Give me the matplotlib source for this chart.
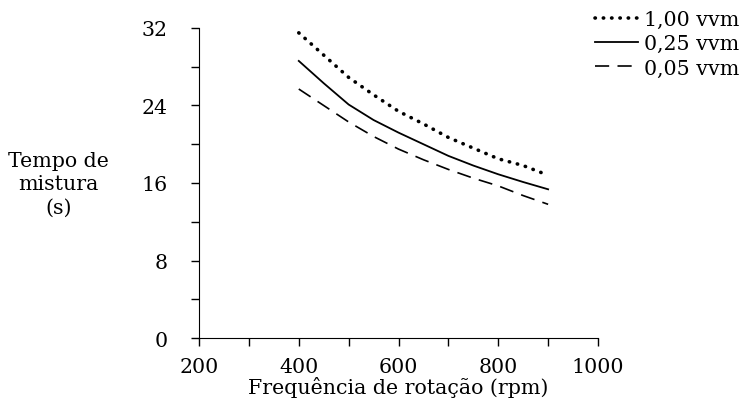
import matplotlib.pyplot as plt
from matplotlib.ticker import MultipleLocator

# rotation frequency (rpm) and mixing time (s) for each aeration rate
rpm = [400, 450, 500, 550, 600, 650, 700, 750, 800, 850, 900]
t_100 = [31.5, 29.2, 26.9, 25.1, 23.4, 22.1, 20.7, 19.6, 18.5, 17.8, 16.8]
t_025 = [28.6, 26.3, 24.1, 22.5, 21.2, 20.0, 18.8, 17.8, 16.9, 16.1, 15.35]
t_005 = [25.7, 24.0, 22.3, 20.8, 19.5, 18.4, 17.4, 16.5, 15.7, 14.7, 13.8]
labels = ['1,00 vvm', '0,25 vvm', '0,05 vvm']

plt.rcParams['font.family'] = ['DejaVu Serif']
plt.rcParams['font.size'] = 14.8

fig = plt.figure(figsize=(7.46, 4.06), dpi=100)
ax = fig.add_axes([0.2668, 0.165, 0.5348, 0.7636])

ax.plot(rpm, t_100, color='black', linewidth=2.6, linestyle=(0, (0.1, 2.2)),
        dash_capstyle='round', label=labels[0])
ax.plot(rpm, t_025, color='black', linewidth=1.3, label=labels[1])
ax.plot(rpm, t_005, color='black', linewidth=1.2, linestyle=(0, (8.5, 5)),
        label=labels[2])

ax.set_xlim(200, 1000)
ax.set_ylim(0, 32)
ax.xaxis.set_major_locator(MultipleLocator(200))
ax.xaxis.set_minor_locator(MultipleLocator(100))
ax.yaxis.set_major_locator(MultipleLocator(8))
ax.yaxis.set_minor_locator(MultipleLocator(4))
ax.tick_params(which='both', direction='out', length=5.5, width=1, colors='black')
ax.tick_params(axis='x', pad=8.5)
ax.tick_params(axis='y', pad=17)
for s in ['top', 'right']:
    ax.spines[s].set_visible(False)

ax.set_xlabel('Frequência de rotação (rpm)', labelpad=-0.5)
fig.text(0.078, 0.545, 'Tempo de\nmistura\n(s)', ha='center', va='center',
         linespacing=1.3)

fig.legend(loc='upper right', bbox_to_anchor=(1.0, 0.99), frameon=False,
           handlelength=2.1, handletextpad=0.25, labelspacing=0.25,
           borderpad=0.2, borderaxespad=0.15)

fig.savefig('out.png', dpi=100)
